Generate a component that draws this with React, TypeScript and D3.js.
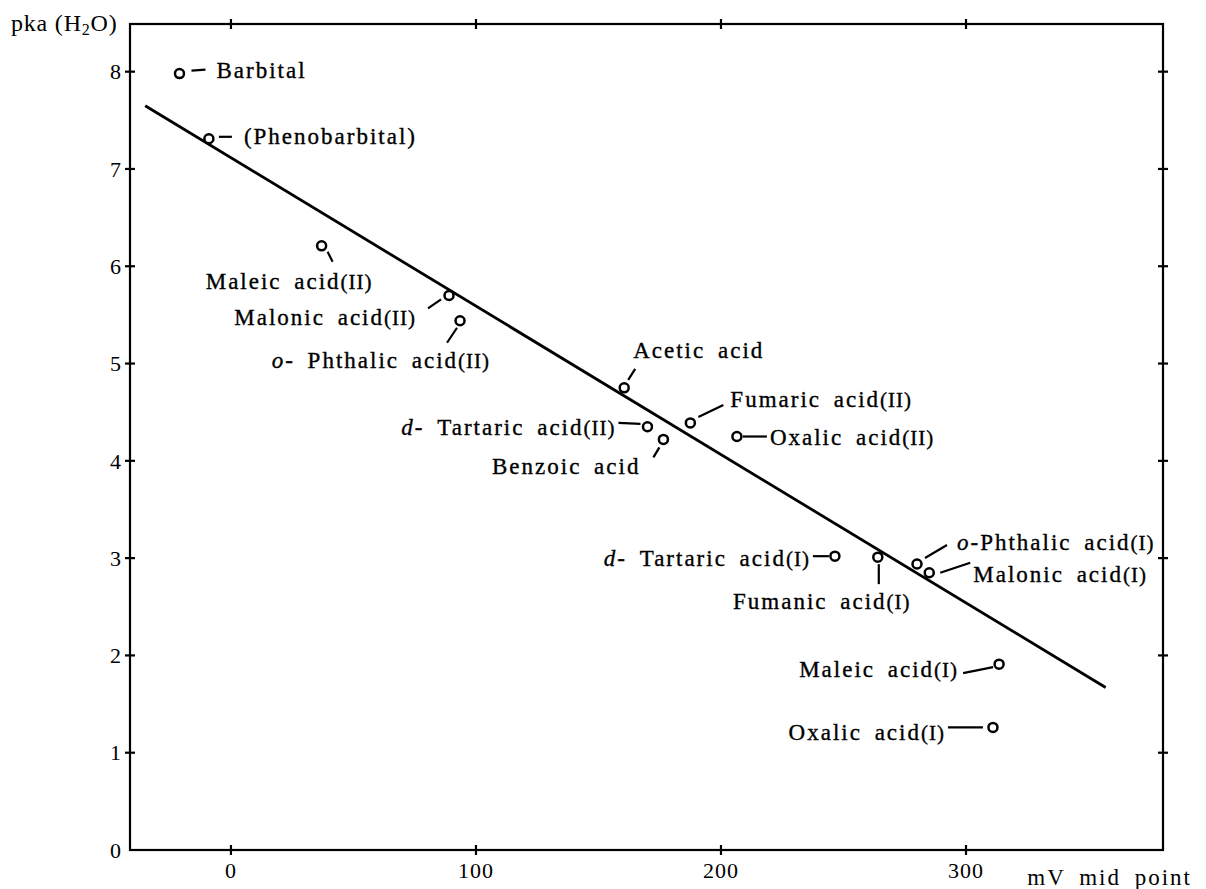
import * as d3 from "d3";
import { useEffect, useRef } from "react";

// compounds and their readings (mV mid point vs pKa in water)
const compounds = [
  "Barbital",
  "(Phenobarbital)",
  "Maleic acid(II)",
  "Malonic acid(II)",
  "o- Phthalic acid(II)",
  "Acetic acid",
  "d- Tartaric acid(II)",
  "Benzoic acid",
  "Fumaric acid(II)",
  "Oxalic acid(II)",
  "d- Tartaric acid(I)",
  "Fumanic acid(I)",
  "o-Phthalic acid(I)",
  "Malonic acid(I)",
  "Maleic acid(I)",
  "Oxalic acid(I)",
];
const mvMidPoint = [-21, -9, 37, 89, 93.5, 160.5, 170, 176.5, 187.5, 206.5, 246.5, 264, 280, 285, 313.5, 311];
const pkaH2O = [7.98, 7.31, 6.21, 5.7, 5.44, 4.75, 4.35, 4.22, 4.39, 4.25, 3.02, 3.01, 2.94, 2.85, 1.91, 1.26];

// fitted straight line, two end points
const fitMv = [-35, 357];
const fitPka = [7.65, 1.67];

const xTickValues = [0, 100, 200, 300];
const yTickValues = [0, 1, 2, 3, 4, 5, 6, 7, 8];

// where each label sits relative to its circle (px): text anchor/offset + leader segment
const labelLayout = [
  { anchor: "start", tx: 37, ty: 4, lead: [12, -3, 26, -4] },
  { anchor: "start", tx: 35, ty: 5, lead: [10, -2, 23, -2] },
  { anchor: "end", tx: 51, ty: 43, lead: [6, 6, 11, 16] },
  { anchor: "end", tx: -33, ty: 30, lead: [-8, 4, -21, 13] },
  { anchor: "end", tx: 30, ty: 47, lead: [-3, 7, -13, 22] },
  { anchor: "start", tx: 9, ty: -30, lead: [4, -8, 11, -19] },
  { anchor: "end", tx: -32, ty: 8, lead: [-7, -3, -29, -4] },
  { anchor: "end", tx: -23, ty: 35, lead: [-4, 8, -10, 18] },
  { anchor: "start", tx: 40, ty: -16, lead: [8, -6, 33, -18] },
  { anchor: "start", tx: 33, ty: 8, lead: [6, 0, 30, 0] },
  { anchor: "end", tx: -25, ty: 10, lead: [-6, 0, -22, 0] },
  { anchor: "middle", tx: -56, ty: 52, lead: [1, 7, 1, 27] },
  { anchor: "start", tx: 40, ty: -14, lead: [8, -6, 30, -19] },
  { anchor: "start", tx: 44, ty: 9, lead: [11, 0, 41, -10] },
  { anchor: "end", tx: -41, ty: 13, lead: [-6, 3, -36, 9] },
  { anchor: "end", tx: -48, ty: 13, lead: [-10, 0, -45, 0] },
];

const FONT = "'Liberation Serif', 'Times New Roman', serif";
const INK = "#000";

export default function App() {
  const ref = useRef<SVGSVGElement>(null);

  useEffect(() => {
    document.body.style.margin = "0";

    const width = 1206;
    const height = 889;
    const frame = { left: 130, right: 1163, top: 24, bottom: 850 };

    const x = d3.scaleLinear().domain([-41.2, 380.4]).range([frame.left, frame.right]);
    const y = d3.scaleLinear().domain([0, 8.49]).range([frame.bottom, frame.top]);

    const svg = d3.select(ref.current)
      .attr("width", width)
      .attr("height", height)
      .style("display", "block")
      .style("background", "#fff")
      .style("font-family", FONT);

    svg.selectAll("*").remove();

    // frame
    svg.append("rect")
      .attr("x", frame.left)
      .attr("y", frame.top)
      .attr("width", frame.right - frame.left)
      .attr("height", frame.bottom - frame.top)
      .attr("fill", "none")
      .attr("stroke", INK)
      .attr("stroke-width", 2.2);

    // cross ticks on all four sides
    const t = 5;
    const ticks = svg.append("g").attr("stroke", INK).attr("stroke-width", 2.2);
    xTickValues.forEach(v => {
      [frame.top, frame.bottom].forEach(yy => {
        ticks.append("line").attr("x1", x(v)).attr("x2", x(v)).attr("y1", yy - t).attr("y2", yy + t);
      });
    });
    yTickValues.slice(1).forEach(v => {
      [frame.left, frame.right].forEach(xx => {
        ticks.append("line").attr("x1", xx - t).attr("x2", xx + t).attr("y1", y(v)).attr("y2", y(v));
      });
    });

    // tick labels
    svg.append("g")
      .selectAll("text")
      .data(xTickValues)
      .join("text")
      .attr("x", d => x(d))
      .attr("y", 878)
      .attr("text-anchor", "middle")
      .attr("font-size", 22)
      .attr("letter-spacing", 1)
      .attr("fill", INK)
      .text(d => d);

    svg.append("g")
      .selectAll("text")
      .data(yTickValues)
      .join("text")
      .attr("x", 121)
      .attr("y", d => y(d))
      .attr("dy", "0.35em")
      .attr("text-anchor", "end")
      .attr("font-size", 22)
      .attr("fill", INK)
      .text(d => d);

    // axis titles
    const yTitle = svg.append("text")
      .attr("x", 11)
      .attr("y", 31)
      .attr("font-size", 24)
      .attr("letter-spacing", 0.8)
      .attr("fill", INK);
    yTitle.append("tspan").text("pka (H");
    yTitle.append("tspan").attr("font-size", 16).attr("dy", 4).text("2");
    yTitle.append("tspan").attr("dy", -4).text("O)");

    svg.append("text")
      .attr("x", 1192)
      .attr("y", 885)
      .attr("text-anchor", "end")
      .attr("font-size", 23)
      .attr("letter-spacing", 2)
      .attr("word-spacing", 6)
      .attr("fill", INK)
      .text("mV mid point");

    // fitted line
    svg.append("line")
      .attr("x1", x(fitMv[0]))
      .attr("y1", y(fitPka[0]))
      .attr("x2", x(fitMv[1]))
      .attr("y2", y(fitPka[1]))
      .attr("stroke", INK)
      .attr("stroke-width", 2.8);

    const points = compounds.map((name, i) => ({
      name,
      cx: x(mvMidPoint[i]),
      cy: y(pkaH2O[i]),
      layout: labelLayout[i],
    }));

    // leader lines
    svg.append("g")
      .attr("stroke", INK)
      .attr("stroke-width", 2.2)
      .selectAll("line")
      .data(points)
      .join("line")
      .attr("x1", d => d.cx + d.layout.lead[0])
      .attr("y1", d => d.cy + d.layout.lead[1])
      .attr("x2", d => d.cx + d.layout.lead[2])
      .attr("y2", d => d.cy + d.layout.lead[3]);

    // open circles
    svg.append("g")
      .selectAll("circle")
      .data(points)
      .join("circle")
      .attr("cx", d => d.cx)
      .attr("cy", d => d.cy)
      .attr("r", 4.5)
      .attr("fill", "#fff")
      .attr("stroke", INK)
      .attr("stroke-width", 2.5);

    // labels: italic prefix (d-, o-), body, small roman suffix
    const labels = svg.append("g")
      .selectAll("text")
      .data(points)
      .join("text")
      .attr("x", d => d.cx + d.layout.tx)
      .attr("y", d => d.cy + d.layout.ty)
      .attr("text-anchor", d => d.layout.anchor)
      .attr("font-size", 23)
      .attr("letter-spacing", 2)
      .attr("word-spacing", 5)
      .attr("fill", INK)
      .attr("stroke", INK)
      .attr("stroke-width", 0.35);

    labels.each(function (d) {
      const m = d.name.match(/^([do]-\s?)?(.*?)(\((?:I|II)\))?$/);
      const el = d3.select(this);
      if (m && m[1]) el.append("tspan").attr("font-style", "italic").text(m[1]);
      el.append("tspan").text(m ? m[2] : d.name);
      if (m && m[3]) el.append("tspan").attr("font-size", 21).attr("letter-spacing", 1).text(m[3]);
    });
  }, []);

  return <svg ref={ref}></svg>;
}
